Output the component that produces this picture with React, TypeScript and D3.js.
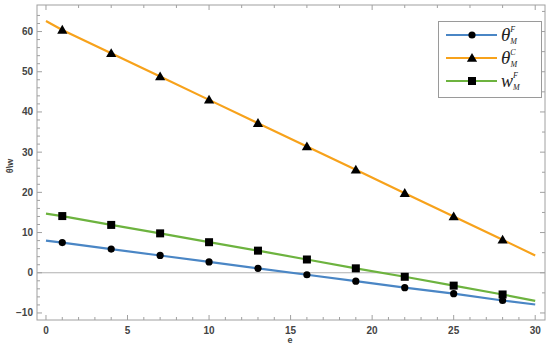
import React from "react";
import * as d3 from "d3";

// e positions where the curves are sampled (line ends + marker points)
const eValues = [0, 1, 4, 7, 10, 13, 16, 19, 22, 25, 28, 30];
const markerE = [1, 4, 7, 10, 13, 16, 19, 22, 25, 28];

const thetaF = [8.0, 7.5, 5.9, 4.3, 2.7, 1.1, -0.5, -2.1, -3.7, -5.2, -6.9, -7.9];
const thetaC = [62.6, 60.4, 54.6, 48.8, 43.0, 37.2, 31.4, 25.6, 19.8, 14.0, 8.2, 4.3];
const wF = [14.7, 14.1, 11.9, 9.8, 7.6, 5.5, 3.3, 1.1, -1.0, -3.2, -5.4, -7.0];

const xTicks = [0, 5, 10, 15, 20, 25, 30];
const yTicks = [-10, 0, 10, 20, 30, 40, 50, 60];

const series = [
  { key: "thetaF", base: "θ", sup: "F", values: thetaF, color: "#4a86c5", marker: "circle" },
  { key: "thetaC", base: "θ", sup: "C", values: thetaC, color: "#f7a21b", marker: "triangle" },
  { key: "wF", base: "w", sup: "F", values: wF, color: "#6db33f", marker: "square" },
];

const W = 550, H = 351;
const left = 37, right = 545, top = 5, bottom = 320;

export default function App() {
  const x = d3.scaleLinear().domain([-0.55, 30.6]).range([left, right]);
  const y = d3.scaleLinear().domain([-11.75, 66.6]).range([bottom, top]);
  const line = d3.line<number>().x((d, i) => x(eValues[i])).y(d => y(d));
  const frame = "#a0a0a0";
  const tickFont = { fontFamily: "Arial, 'Liberation Sans', sans-serif", fontSize: 10, fontWeight: 700, fill: "#444" };
  const serif = "'Liberation Serif', 'Times New Roman', serif";

  const marker = (kind: string, cx: number, cy: number, k: string) => {
    if (kind === "circle") return <circle key={k} cx={cx} cy={cy} r={3.6} fill="#000" />;
    if (kind === "square") return <rect key={k} x={cx - 4} y={cy - 4} width={8} height={8} fill="#000" />;
    const s = d3.symbol(d3.symbolTriangle, 45)();
    return <path key={k} d={s || ""} transform={`translate(${cx},${cy + 0.8})`} fill="#000" />;
  };

  const xMinor = d3.range(0, 31, 1).filter(v => v % 5 !== 0);
  const yMinor = d3.range(-10, 66, 2).filter(v => v % 10 !== 0);
  const topTicks = d3.range(0, 31, 2);
  const rightTicks = d3.range(-10, 66, 5);

  return (
    <svg width={W} height={H} style={{ position: "absolute", left: 0, top: 0, background: "#fff" }}>
      {/* frame */}
      <rect x={left} y={top} width={right - left} height={bottom - top} fill="none" stroke={frame} strokeWidth={1} />
      {/* zero line */}
      <line x1={left} x2={right} y1={y(0)} y2={y(0)} stroke="#b0b0b0" strokeWidth={1.2} />

      {/* bottom ticks */}
      {xTicks.map(t => (
        <g key={"xt" + t}>
          <line x1={x(t)} x2={x(t)} y1={bottom} y2={bottom - 5} stroke={frame} />
          <text x={x(t)} y={bottom + 14} textAnchor="middle" {...tickFont}>{t}</text>
        </g>
      ))}
      {xMinor.map(t => (
        <line key={"xm" + t} x1={x(t)} x2={x(t)} y1={bottom} y2={bottom - 3} stroke={frame} />
      ))}
      {topTicks.map(t => (
        <line key={"tt" + t} x1={x(t)} x2={x(t)} y1={top} y2={top + (t % 10 === 0 ? 5 : 3)} stroke={frame} />
      ))}
      {/* left ticks */}
      {yTicks.map(t => (
        <g key={"yt" + t}>
          <line x1={left} x2={left + 5} y1={y(t)} y2={y(t)} stroke={frame} />
          <text x={left - 4} y={y(t) + 3.5} textAnchor="end" {...tickFont}>{t < 0 ? "\u2212" + Math.abs(t) : t}</text>
        </g>
      ))}
      {yMinor.map(t => (
        <line key={"ym" + t} x1={left} x2={left + 3} y1={y(t)} y2={y(t)} stroke={frame} />
      ))}
      {rightTicks.map(t => (
        <line key={"rt" + t} x1={right} x2={right - (t % 10 === 0 ? 5 : 3)} y1={y(t)} y2={y(t)} stroke={frame} />
      ))}

      {/* axis labels */}
      <text x={290} y={343} textAnchor="middle" {...tickFont} fontSize={9}>e</text>
      <text transform={`translate(13,${166}) rotate(-90)`} textAnchor="middle" {...tickFont} fontSize={9}>θ\w</text>

      {/* lines */}
      {series.map(s => (
        <path key={s.key} d={line(s.values) || ""} fill="none" stroke={s.color} strokeWidth={2.2} />
      ))}
      {/* markers */}
      {series.map(s =>
        markerE.map(e => {
          const i = eValues.indexOf(e);
          return marker(s.marker, x(e), y(s.values[i]), s.key + e);
        })
      )}

      {/* legend */}
      <rect x={438.5} y={21.5} width={103} height={76} fill="#fff" stroke="#9a9a9a" strokeWidth={1} />
      {series.map((s, i) => {
        const ly = 35 + i * 23;
        return (
          <g key={"lg" + s.key}>
            <line x1={446} x2={497} y1={ly} y2={ly} stroke={s.color} strokeWidth={2.2} />
            {marker(s.marker, 472, ly, "lm" + s.key)}
            <text x={501} y={ly + 6} fontFamily={serif} fontStyle="italic" fontSize={s.base === "w" ? 18 : 19} fill="#222">
              {s.base}
              <tspan fontSize={8} dx={0} dy={-9}>{s.sup}</tspan>
              <tspan fontSize={8} dx={s.sup === "C" ? -5.3 : -4.9} dy={12}>M</tspan>
            </text>
          </g>
        );
      })}
    </svg>
  );
}
